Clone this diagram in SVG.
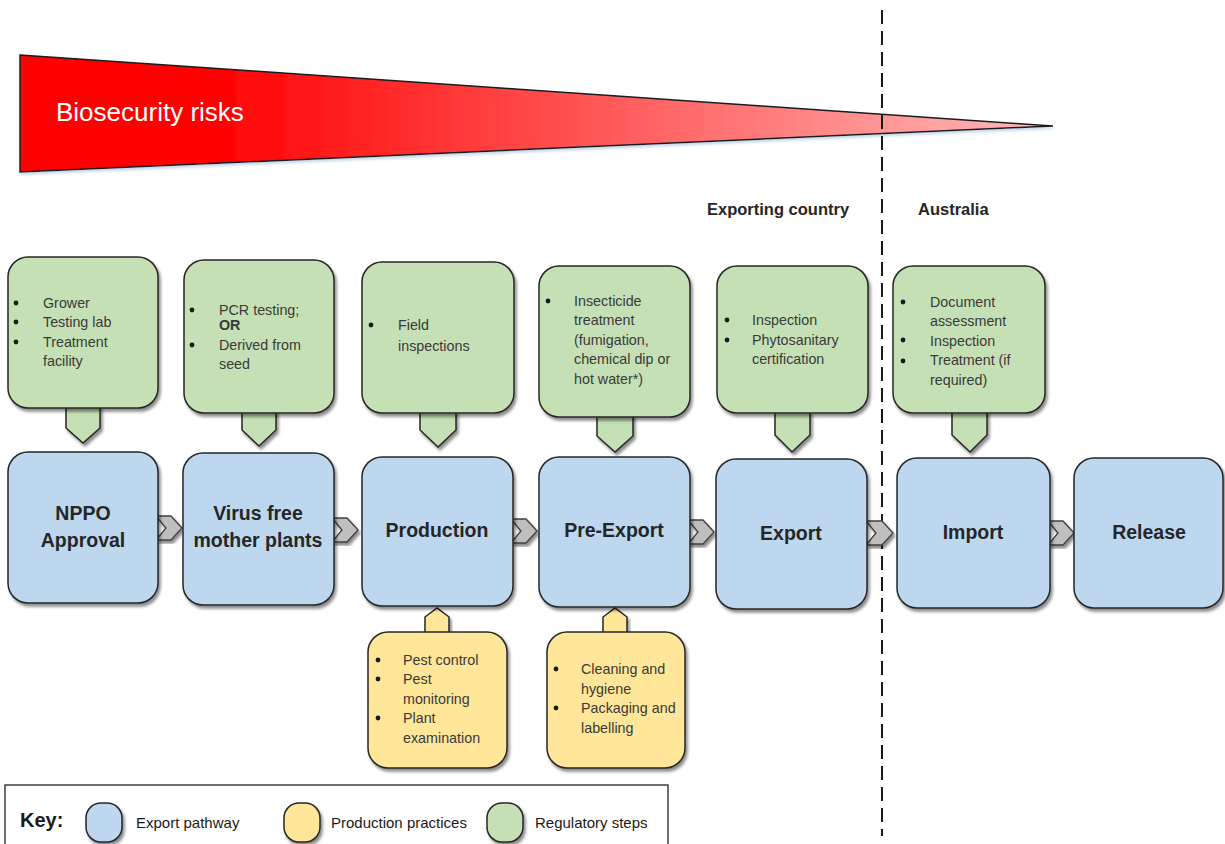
<svg xmlns="http://www.w3.org/2000/svg" width="1225" height="844" viewBox="0 0 1225 844">
<defs>
<linearGradient id="risk" x1="20" y1="0" x2="1053" y2="0" gradientUnits="userSpaceOnUse">
<stop offset="0" stop-color="#ff0000"/>
<stop offset="0.18" stop-color="#ff0000"/>
<stop offset="1" stop-color="#ffbcbc"/>
</linearGradient>
<filter id="sh" x="-10%" y="-10%" width="125%" height="125%">
<feDropShadow dx="2" dy="3" stdDeviation="1.8" flood-color="#000" flood-opacity="0.45"/>
</filter>
<filter id="sh2" x="-10%" y="-10%" width="125%" height="125%">
<feDropShadow dx="1" dy="2" stdDeviation="1.5" flood-color="#7fa7d0" flood-opacity="0.5"/>
</filter>
</defs>
<style>
.blue{fill:#bdd7ee;stroke:#262626;stroke-width:1.5;filter:url(#sh)}
.green{fill:#c5e0b4;stroke:#262626;stroke-width:1.5;filter:url(#sh)}
.yellow{fill:#ffe699;stroke:#262626;stroke-width:1.5;filter:url(#sh)}
.chev{fill:#bfbfbf;stroke:#404040;stroke-width:1.3;filter:url(#sh)}
.lbl{font-family:"Liberation Sans",Arial,sans-serif;font-weight:bold;font-size:19.5px;fill:#262626;text-anchor:middle}
.t{font-family:"Liberation Sans",Arial,sans-serif;font-size:14.3px;fill:#3a3a3a}
.b{fill:#1a1a1a}
.hdr{font-family:"Liberation Sans",Arial,sans-serif;font-weight:bold;font-size:16.5px;fill:#262626}
.key{font-family:"Liberation Sans",Arial,sans-serif;font-size:15px;fill:#1a1a1a}
</style>
<rect width="1225" height="844" fill="#ffffff"/>

<g id="risk-wedge">
<polygon points="20,55 1053,126 20,172" fill="url(#risk)" stroke="#1a1a1a" stroke-width="1.5" filter="url(#sh2)"/>
<text x="56" y="121" font-family="Liberation Sans, Arial, sans-serif" font-size="26" fill="#ffffff">Biosecurity risks</text>
</g>

<g id="border-line">
<line x1="882" y1="10" x2="882" y2="836" stroke="#1a1a1a" stroke-width="2" stroke-dasharray="14,7"/>
<text class="hdr" x="707" y="215">Exporting country</text>
<text class="hdr" x="918" y="215">Australia</text>
</g>

<g id="connectors">
<polygon class="chev" points="156,516 171,516 182,528 171,540 156,540 166,528"/>
<polygon class="chev" points="332,518 347,518 358,530 347,542 332,542 342,530"/>
<polygon class="chev" points="511,519 526,519 537,531 526,543 511,543 521,531"/>
<polygon class="chev" points="688,520 703,520 714,532 703,544 688,544 698,532"/>
<polygon class="chev" points="866,521 882,521 893,533 882,545 866,545 876,533"/>
<polygon class="chev" points="1048,521 1063,521 1074,533 1063,545 1048,545 1058,533"/>
</g>

<g id="reg-npp">
<polygon class="green" points="66,406 100,406 100,428 83,443 66,428"/>
<rect class="green" x="8" y="257" width="150" height="151" rx="20"/>
<circle class="b" cx="16" cy="303" r="2.4"/>
<circle class="b" cx="16" cy="322" r="2.4"/>
<circle class="b" cx="16" cy="342" r="2.4"/>
<text class="t" x="43" y="308">Grower</text>
<text class="t" x="43" y="327">Testing lab</text>
<text class="t" x="43" y="347">Treatment</text>
<text class="t" x="43" y="366">facility</text>
</g>

<g id="reg-virus">
<polygon class="green" points="242,411 276,411 276,430 259,446 242,430"/>
<rect class="green" x="184" y="260" width="150" height="153" rx="20"/>
<circle class="b" cx="192" cy="310" r="2.4"/>
<circle class="b" cx="192" cy="345" r="2.4"/>
<text class="t" x="219" y="315">PCR testing;</text>
<text class="t" x="219" y="330" font-weight="bold">OR</text>
<text class="t" x="219" y="350">Derived from</text>
<text class="t" x="219" y="369">seed</text>
</g>

<g id="reg-production">
<polygon class="green" points="420,411 456,411 456,430 438,447 420,430"/>
<rect class="green" x="362" y="262" width="152" height="151" rx="20"/>
<circle class="b" cx="371" cy="325" r="2.4"/>
<text class="t" x="398" y="330">Field</text>
<text class="t" x="398" y="351">inspections</text>
</g>

<g id="reg-preexport">
<polygon class="green" points="597,415 633,415 633,436 615,452 597,436"/>
<rect class="green" x="539" y="266" width="151" height="151" rx="20"/>
<circle class="b" cx="548" cy="301" r="2.4"/>
<text class="t" x="574" y="306">Insecticide</text>
<text class="t" x="574" y="325">treatment</text>
<text class="t" x="574" y="345">(fumigation,</text>
<text class="t" x="574" y="364">chemical dip or</text>
<text class="t" x="574" y="384">hot water*)</text>
</g>

<g id="reg-export">
<polygon class="green" points="775,411 810,411 810,435 792,452 775,435"/>
<rect class="green" x="717" y="266" width="151" height="147" rx="20"/>
<circle class="b" cx="727" cy="320" r="2.4"/>
<circle class="b" cx="727" cy="340" r="2.4"/>
<text class="t" x="752" y="325">Inspection</text>
<text class="t" x="752" y="345">Phytosanitary</text>
<text class="t" x="752" y="364">certification</text>
</g>

<g id="reg-import">
<polygon class="green" points="952,411 987,411 987,435 970,452 952,435"/>
<rect class="green" x="893" y="266" width="152" height="147" rx="20"/>
<circle class="b" cx="903" cy="302" r="2.4"/>
<circle class="b" cx="903" cy="340" r="2.4"/>
<circle class="b" cx="903" cy="361" r="2.4"/>
<text class="t" x="930" y="307">Document</text>
<text class="t" x="930" y="326">assessment</text>
<text class="t" x="930" y="346">Inspection</text>
<text class="t" x="930" y="365">Treatment (if</text>
<text class="t" x="930" y="385">required)</text>
</g>

<g id="prac-production">
<polygon class="yellow" points="425,634 425,617 437,608 449,617 449,634"/>
<rect class="yellow" x="368" y="632" width="139" height="136" rx="20"/>
<circle class="b" cx="378" cy="660" r="2.4"/>
<circle class="b" cx="378" cy="679" r="2.4"/>
<circle class="b" cx="378" cy="718" r="2.4"/>
<text class="t" x="403" y="665">Pest control</text>
<text class="t" x="403" y="684">Pest</text>
<text class="t" x="403" y="704">monitoring</text>
<text class="t" x="403" y="723">Plant</text>
<text class="t" x="403" y="743">examination</text>
</g>

<g id="prac-preexport">
<polygon class="yellow" points="603,634 603,617 615,608 627,617 627,634"/>
<rect class="yellow" x="547" y="632" width="138" height="136" rx="20"/>
<circle class="b" cx="556" cy="669" r="2.4"/>
<circle class="b" cx="556" cy="708" r="2.4"/>
<text class="t" x="581" y="674">Cleaning and</text>
<text class="t" x="581" y="694">hygiene</text>
<text class="t" x="581" y="713">Packaging and</text>
<text class="t" x="581" y="733">labelling</text>
</g>

<g id="node-nppo">
<rect class="blue" x="8" y="452" width="150" height="151" rx="20"/>
<text class="lbl" x="83" y="520">NPPO</text>
<text class="lbl" x="83" y="547">Approval</text>
</g>
<g id="node-virus">
<rect class="blue" x="183" y="453" width="151" height="152" rx="20"/>
<text class="lbl" x="258" y="520">Virus free</text>
<text class="lbl" x="258" y="547">mother plants</text>
</g>
<g id="node-production">
<rect class="blue" x="362" y="457" width="151" height="149" rx="20"/>
<text class="lbl" x="437" y="537">Production</text>
</g>
<g id="node-preexport">
<rect class="blue" x="539" y="457" width="151" height="150" rx="20"/>
<text class="lbl" x="614" y="537">Pre-Export</text>
</g>
<g id="node-export">
<rect class="blue" x="716" y="459" width="151" height="150" rx="20"/>
<text class="lbl" x="791" y="540">Export</text>
</g>
<g id="node-import">
<rect class="blue" x="897" y="458" width="153" height="150" rx="20"/>
<text class="lbl" x="973" y="539">Import</text>
</g>
<g id="node-release">
<rect class="blue" x="1074" y="458" width="149" height="150" rx="20"/>
<text class="lbl" x="1149" y="539">Release</text>
</g>

<g id="key">
<rect x="5" y="785" width="663" height="70" fill="#ffffff" stroke="#404040" stroke-width="1.5"/>
<text x="20" y="827" font-family="Liberation Sans, Arial, sans-serif" font-weight="bold" font-size="20" fill="#1a1a1a">Key:</text>
<rect class="blue" x="86" y="803" width="36" height="39" rx="15"/>
<text class="key" x="136" y="828">Export pathway</text>
<rect class="yellow" x="284" y="803" width="36" height="39" rx="15"/>
<text class="key" x="331" y="828">Production practices</text>
<rect class="green" x="487" y="803" width="36" height="39" rx="15"/>
<text class="key" x="535" y="828">Regulatory steps</text>
</g>
</svg>
